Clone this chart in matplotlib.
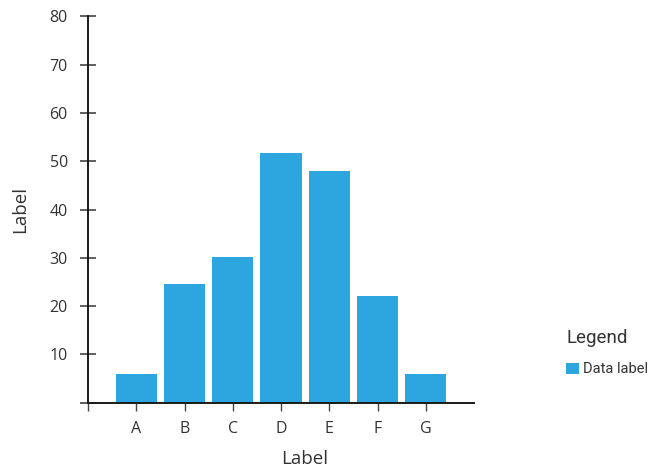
import numpy as np
import matplotlib.pyplot as plt

# --- data ---
categories = ['A', 'B', 'C', 'D', 'E', 'F', 'G']
values = [6.0, 24.6, 30.2, 51.7, 48.0, 22.1, 6.0]
y_ticks = [0, 10, 20, 30, 40, 50, 60, 70, 80]
y_tick_labels = ['', '10', '20', '30', '40', '50', '60', '70', '80']
series_name = 'Data label'

BAR_COLOR = '#2da6e0'
TEXT_COLOR = '#333333'
AXIS_COLOR = '#1a1a1a'

plt.rcParams['font.family'] = ['Open Sans', 'DejaVu Sans']

fig = plt.figure(figsize=(6.48, 4.68), dpi=100)
ax = fig.add_axes([88 / 648, 65.3 / 468, 386 / 648, 386.4 / 468])

x = np.arange(len(categories))
ax.bar(x, values, width=0.86, color=BAR_COLOR, label=series_name, zorder=2)

ax.set_xlim(-1, 7)
ax.set_ylim(0, 80)

# x ticks: one blank tick at the origin plus one per category
ax.set_xticks(np.concatenate([[-1], x]))
ax.set_xticklabels([''] + categories)
ax.set_yticks(y_ticks)
ax.set_yticklabels(y_tick_labels)

for side in ['top', 'right']:
    ax.spines[side].set_visible(False)
for side in ['left', 'bottom']:
    ax.spines[side].set_color(AXIS_COLOR)
    ax.spines[side].set_linewidth(1.4)
    ax.spines[side].set_zorder(3)

ax.tick_params(axis='y', direction='inout', length=11, width=1.2,
               color='#444444', labelsize=11.5, labelcolor=TEXT_COLOR, pad=9)
ax.tick_params(axis='x', direction='out', length=6, width=1.0,
               color='#444444', labelsize=11.5, labelcolor=TEXT_COLOR, pad=7)

ax.set_xlabel('Label', fontsize=13.5, color=TEXT_COLOR)
ax.xaxis.set_label_coords((305 - 88) / 386, -47 / 386.4)
ax.set_ylabel('Label', fontsize=13.5, color=TEXT_COLOR)
ax.yaxis.set_label_coords(-59 / 386, 0.5)

leg = fig.legend(loc='upper left', bbox_to_anchor=(553 / 648, 1 - 316 / 468),
                 frameon=False, title='Legend', alignment='left',
                 handlelength=0.85, handleheight=0.85, handletextpad=0.3,
                 prop={'family': 'Roboto', 'size': 10.5},
                 title_fontproperties={'family': 'Roboto', 'size': 13.5},
                 labelcolor=TEXT_COLOR)
leg.get_title().set_color(TEXT_COLOR)
leg._legend_box.sep = 11

fig.savefig('out.png', dpi=100)
